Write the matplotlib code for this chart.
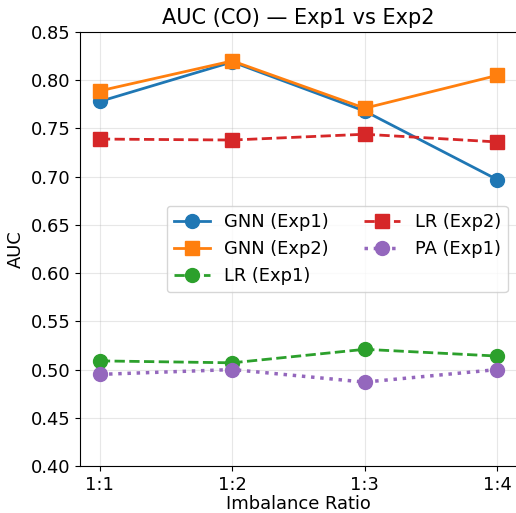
import matplotlib
matplotlib.use("Agg")
import matplotlib.pyplot as plt

ratios = ["1:1", "1:2", "1:3", "1:4"]
gnn_exp1 = [0.778, 0.819, 0.768, 0.697]
gnn_exp2 = [0.789, 0.820, 0.771, 0.805]
lr_exp1 = [0.509, 0.507, 0.521, 0.514]
lr_exp2 = [0.739, 0.738, 0.744, 0.736]
pa_exp1 = [0.495, 0.500, 0.487, 0.500]

fig = plt.figure(figsize=(5.16, 5.13), dpi=100)
ax = fig.add_axes([0.155, 0.0916, 0.847, 0.846])
x = range(len(ratios))
ax.plot(x, gnn_exp1, color="#1f77b4", linestyle="-", marker="o", lw=2, ms=10, label="GNN (Exp1)")
ax.plot(x, gnn_exp2, color="#ff7f0e", linestyle="-", marker="s", lw=2, ms=10, label="GNN (Exp2)")
ax.plot(x, lr_exp1, color="#2ca02c", linestyle="--", marker="o", lw=2, ms=10, label="LR (Exp1)")
ax.plot(x, lr_exp2, color="#d62728", linestyle="--", marker="s", lw=2, ms=10, label="LR (Exp2)")
ax.plot(x, pa_exp1, color="#9467bd", linestyle=":", marker="o", lw=2.5, ms=10, label="PA (Exp1)")

ax.set_xticks(list(x))
ax.set_xticklabels(ratios)
ax.set_ylim(0.40, 0.85)
ax.set_yticks([0.40, 0.45, 0.50, 0.55, 0.60, 0.65, 0.70, 0.75, 0.80, 0.85])
ax.tick_params(labelsize=12.9)
ax.set_xlabel("Imbalance Ratio", fontsize=12.9, labelpad=1)
ax.set_ylabel("AUC", fontsize=12.9)
ax.set_title("AUC (CO) — Exp1 vs Exp2", fontsize=15)
ax.grid(True, alpha=0.3)
ax.legend(loc="center right", ncol=2, fontsize=12.9)

fig.savefig("out.png", dpi=100)
